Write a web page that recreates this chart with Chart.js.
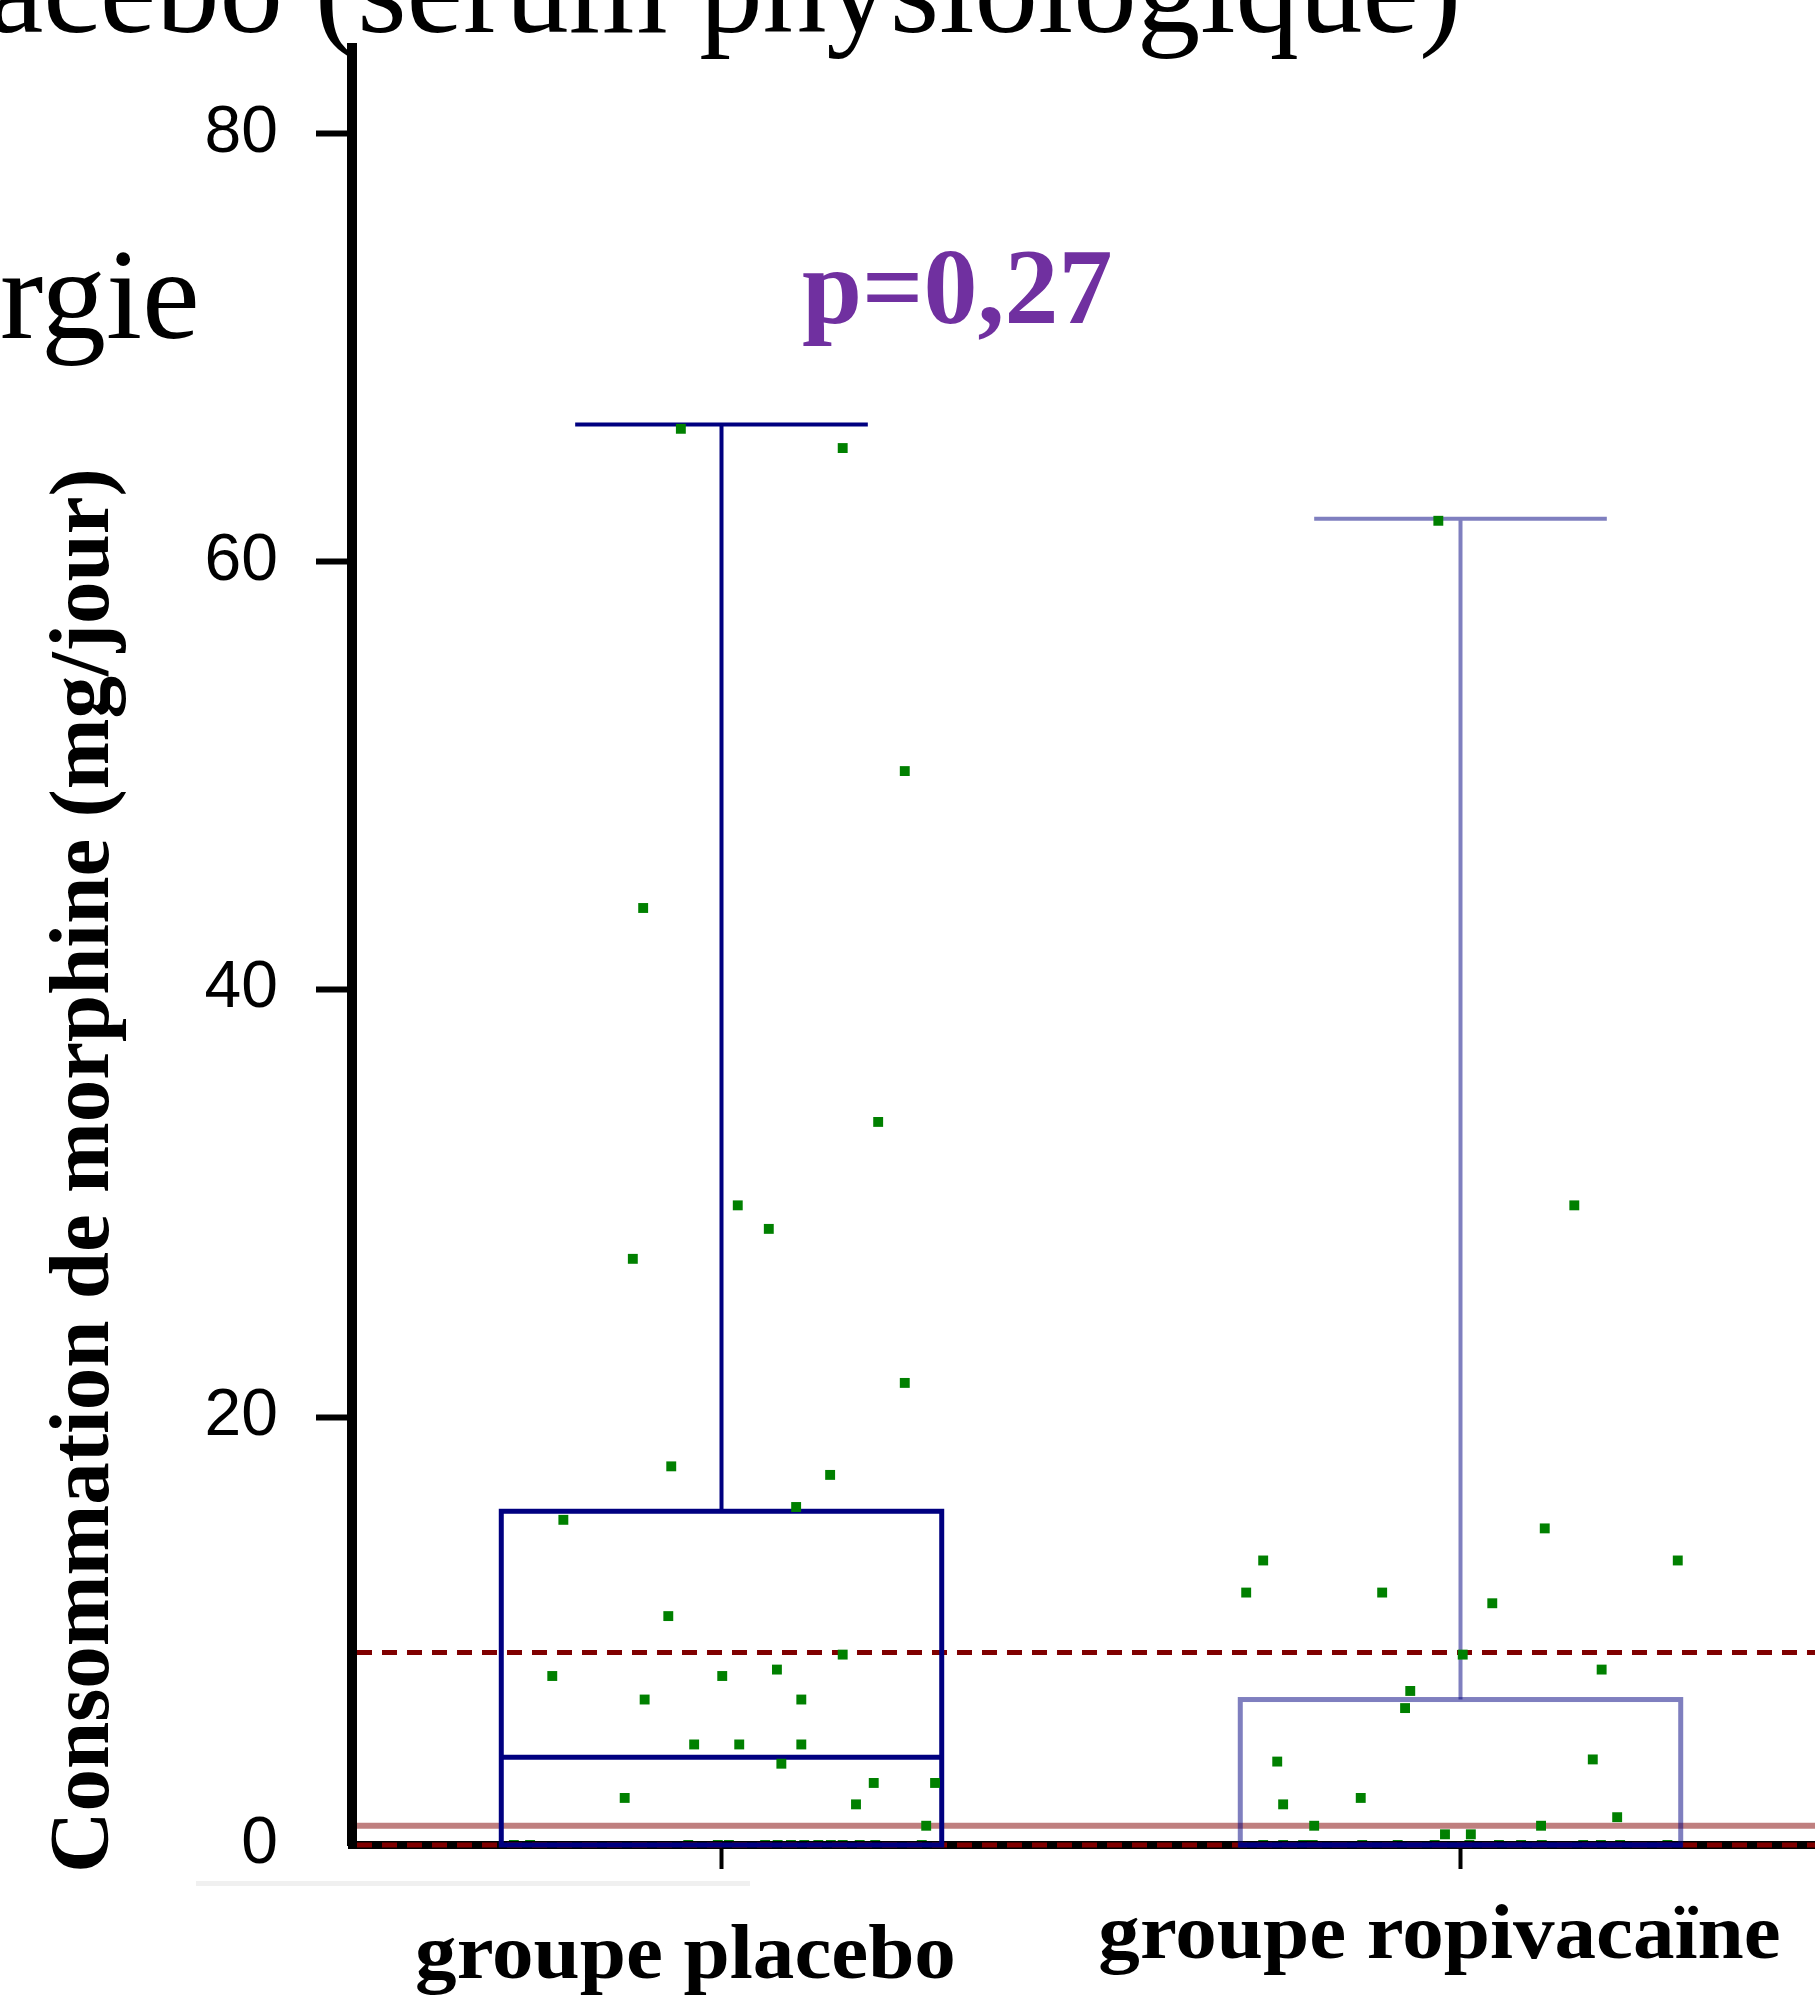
<!DOCTYPE html>
<html>
<head>
<meta charset="utf-8">
<script src="https://cdn.jsdelivr.net/npm/chart.js@4.4.1/dist/chart.umd.min.js"></script>
<style>
html, body { margin:0; padding:0; background:#fff; overflow:hidden; width:1815px; height:1996px; }
#wrap { position:relative; width:1815px; height:1996px; overflow:hidden; background:#fff; }
#c { position:absolute; left:0; top:0; }
</style>
</head>
<body>
<div id="wrap"><canvas id="c" width="1830" height="1996"></canvas></div>
<script>
// ---------------- DATA ----------------
const categories = ['groupe placebo', 'groupe ropivacaïne'];
const yTicks = [0, 20, 40, 60, 80];

// box-plot statistics per category (mg/jour)
const boxMin    = [0, 0];
const boxQ1     = [0, 0];
const boxMedian = [4.1, 0];
const boxQ3     = [15.6, 6.8];
const boxMax    = [66.4, 62.0];

// individual patients (value) and horizontal jitter (fraction of category step)
const placeboValues = [66.2, 65.3, 50.2, 43.8, 33.8, 29.9, 28.8, 27.4, 21.6, 17.7, 17.3, 15.8, 15.2, 10.7,
  8.9, 8.2, 7.9, 7.9, 6.8, 6.8, 4.7, 4.7, 4.7, 3.8, 2.9, 2.9, 2.2, 1.9, 0.9,
  0, 0, 0, 0, 0, 0, 0, 0, 0, 0, 0, 0, 0, 0, 0];
const placeboJitter = [-0.055, 0.164, 0.248, -0.106, 0.212, 0.022, 0.064, -0.120, 0.248, -0.068, 0.147, 0.101, -0.214, -0.072,
  0.164, 0.075, -0.229, 0.001, -0.104, 0.108, -0.037, 0.024, 0.108, 0.081, 0.206, 0.289, -0.131, 0.182, 0.277,
  -0.281, -0.259, -0.045, -0.005, 0.010, 0.059, 0.076, 0.094, 0.112, 0.131, 0.148, 0.164, 0.187, 0.208, 0.271];

const ropiValues = [61.9, 29.9, 14.8, 13.3, 13.3, 11.8, 11.8, 11.3, 8.9, 8.2, 7.2, 6.4, 4.0, 3.9, 2.2, 1.9, 1.3, 0.9, 0.9, 0.5, 0.5,
  0, 0, 0, 0, 0, 0, 0, 0, 0, 0, 0, 0, 0, 0, 0];
const ropiJitter = [-0.030, 0.154, 0.114, -0.267, 0.294, -0.290, -0.106, 0.043, 0.003, 0.191, -0.068, -0.075, 0.179, -0.248, -0.135, -0.240, 0.212, -0.198, 0.109, -0.021, 0.014,
  -0.267, -0.240, -0.213, -0.200, -0.133, -0.085, -0.035, 0.012, 0.052, 0.082, 0.110, 0.166, 0.190, 0.216, 0.280];

// horizontal reference lines
const refDashed = [9, 0];
const refSolid = [0.9];

// texts
const yTitle = 'Consommation de morphine (mg/jour)';
const pText = 'p=0,27';
const slideTitle = 'acebo (sérum physiologique)';
const slideFragment = 'rgie';

// ---------------- STYLE ----------------
const SERIF = '"Liberation Serif", "Times New Roman", Times, serif';
const SANS = '"Liberation Sans", Arial, Helvetica, sans-serif';
const NAVY = '#000080';
const BOX_COLORS = [NAVY, 'rgba(0,0,128,0.5)'];
const BOX_HALF = 0.298;   // half box width, in category units
const CAP_HALF = 0.198;
const LABEL_DX = [-36, -21];
const LABEL_DY = [133, 113];

const boxPlugin = {
  id: 'boxplot',
  beforeDatasetsDraw(chart) {
    const { ctx, scales: { x, y }, chartArea } = chart;
    ctx.save();
    // reference lines
    ctx.lineWidth = 5;
    ctx.strokeStyle = '#800000';
    ctx.setLineDash([15, 10]);
    refDashed.forEach(v => {
      const py = y.getPixelForValue(v);
      ctx.beginPath(); ctx.moveTo(chartArea.left + 5, py); ctx.lineTo(chartArea.right, py); ctx.stroke();
    });
    ctx.setLineDash([]);
    ctx.lineWidth = 6;
    ctx.strokeStyle = 'rgba(128,0,0,0.5)';
    refSolid.forEach(v => {
      const py = y.getPixelForValue(v);
      ctx.beginPath(); ctx.moveTo(chartArea.left + 5, py); ctx.lineTo(chartArea.right, py); ctx.stroke();
    });
    // boxes
    categories.forEach((c, i) => {
      const cx = x.getPixelForValue(i);
      const l = x.getPixelForValue(i - BOX_HALF), r = x.getPixelForValue(i + BOX_HALF);
      const cl = x.getPixelForValue(i - CAP_HALF), cr = x.getPixelForValue(i + CAP_HALF);
      const yq1 = y.getPixelForValue(boxQ1[i]), yq3 = y.getPixelForValue(boxQ3[i]);
      const ymed = y.getPixelForValue(boxMedian[i]);
      const ymax = y.getPixelForValue(boxMax[i]), ymin = y.getPixelForValue(boxMin[i]);
      ctx.strokeStyle = BOX_COLORS[i];
      // whiskers
      ctx.lineWidth = 4;
      ctx.beginPath();
      ctx.moveTo(cx, yq3); ctx.lineTo(cx, ymax);
      ctx.moveTo(cl, ymax); ctx.lineTo(cr, ymax);
      if (ymin > yq1 + 1) { ctx.moveTo(cx, yq1); ctx.lineTo(cx, ymin); ctx.moveTo(cl, ymin); ctx.lineTo(cr, ymin); }
      ctx.stroke();
      // box
      ctx.lineWidth = 5;
      ctx.strokeRect(l, yq3, r - l, yq1 - yq3);
      // median
      ctx.strokeStyle = NAVY;
      ctx.beginPath(); ctx.moveTo(l - 2, ymed); ctx.lineTo(r + 2, ymed); ctx.stroke();
    });
    ctx.restore();
  },
  afterDraw(chart) {
    const { ctx, scales: { x }, chartArea } = chart;
    ctx.save();
    // faint rule under the axis
    ctx.fillStyle = '#f0f0f0';
    ctx.fillRect(196, 1881, 554, 5);
    // slide fragments behind the chart
    ctx.fillStyle = '#000';
    ctx.textBaseline = 'alphabetic';
    ctx.textAlign = 'left';
    ctx.font = '127px ' + SERIF;
    ctx.fillText(slideTitle, -13, 32);
    ctx.font = '130px ' + SERIF;
    ctx.fillText(slideFragment, 0, 338);
    // p value
    ctx.fillStyle = '#7030A0';
    ctx.font = 'bold 108px ' + SERIF;
    ctx.fillText(pText, 802, 323);
    // y axis title
    ctx.fillStyle = '#000';
    ctx.save();
    ctx.translate(108, 1873);
    ctx.rotate(-Math.PI / 2);
    ctx.font = 'bold 85px ' + SERIF;
    ctx.fillText(yTitle, 0, 0);
    ctx.restore();
    // category labels
    ctx.font = 'bold 78px ' + SERIF;
    ctx.textAlign = 'center';
    categories.forEach((c, i) => {
      ctx.save();
      ctx.translate(x.getPixelForValue(i) + LABEL_DX[i], chartArea.bottom + LABEL_DY[i]);
      ctx.scale(1.065, 1);
      ctx.fillText(c, 0, 0);
      ctx.restore();
    });
    ctx.restore();
  }
};

const pointStyle = { pointStyle: 'rect', pointRadius: 7, pointHoverRadius: 7, backgroundColor: '#008000', borderWidth: 0, showLine: false,
  clip: { left: 20, top: 20, right: 20, bottom: -4 } };

new Chart(document.getElementById('c'), {
  type: 'scatter',
  data: {
    datasets: [
      Object.assign({ label: categories[0], data: placeboValues.map((v, k) => ({ x: 0 + placeboJitter[k], y: v })) }, pointStyle),
      Object.assign({ label: categories[1], data: ropiValues.map((v, k) => ({ x: 1 + ropiJitter[k], y: v })) }, pointStyle)
    ]
  },
  options: {
    responsive: false,
    animation: false,
    devicePixelRatio: 1,
    layout: { padding: { top: 48, left: 0, right: 0, bottom: 0 }, autoPadding: false },
    plugins: { legend: { display: false }, tooltip: { enabled: false }, title: { display: false } },
    scales: {
      x: {
        type: 'linear', min: -0.5, max: 1.5,
        afterBuildTicks(s) { s.ticks = categories.map((c, i) => ({ value: i })); },
        afterFit(s) { s.height = 151; s.paddingLeft = 0; s.paddingRight = 0; s.paddingTop = 0; s.paddingBottom = 0; },
        ticks: { display: false },
        grid: { display: true, drawOnChartArea: false, drawTicks: true, tickLength: 24, tickWidth: 4, tickColor: '#000' },
        border: { display: true, color: '#000', width: 8 }
      },
      y: {
        type: 'linear', min: 0, max: 84,
        afterBuildTicks(s) { s.ticks = yTicks.map(v => ({ value: v })); },
        afterFit(s) { s.width = 352; s.paddingTop = 0; s.paddingBottom = 0; s.paddingLeft = 0; s.paddingRight = 0; },
        ticks: { color: '#000', font: { family: SANS, size: 66 }, padding: 38 },
        grid: { display: true, drawOnChartArea: false, drawTicks: true, tickLength: 36, tickWidth: 6,
          tickColor: (c) => (c.tick && c.tick.value === 0) ? 'rgba(0,0,0,0)' : '#000' },
        border: { display: true, color: '#000', width: 10 }
      }
    }
  },
  plugins: [boxPlugin]
});
</script>
</body>
</html>
